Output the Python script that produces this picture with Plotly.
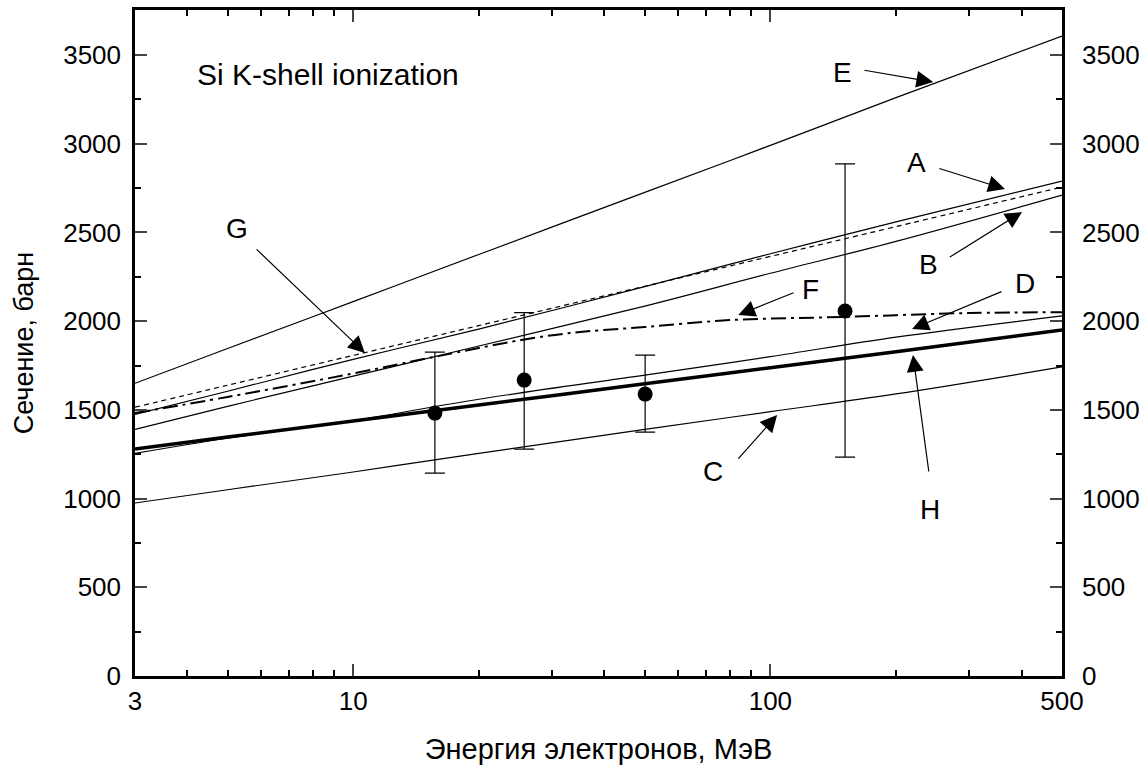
import numpy as np
import plotly.graph_objects as go

# ---- data ----
x_std = [3, 5, 10, 20, 50, 100, 200, 500]
E = [1650, 1846, 2110, 2376, 2726, 2991, 3260, 3607]
A = [1475, 1605, 1785, 1955, 2195, 2380, 2560, 2790]
G = [1515, 1639, 1807, 1975, 2197, 2365, 2533, 2756]
B = [1390, 1520, 1690, 1860, 2085, 2270, 2450, 2711]
D = [1255, 1340, 1440, 1560, 1696, 1800, 1910, 2030]
H = [1280, 1347, 1437, 1527, 1647, 1738, 1828, 1950]
C = [975, 1050, 1150, 1255, 1390, 1490, 1590, 1742]
x_F = [3, 5, 10, 16, 27, 35, 50, 80, 150, 300, 500]
F = [1482, 1573, 1705, 1803, 1905, 1939, 1967, 2006, 2024, 2046, 2050]

x_exp = [15.7, 25.7, 50.1, 151]
y_exp = [1482, 1668, 1589, 2057]
err_plus = [344, 380, 220, 830]
err_minus = [338, 389, 214, 823]

font = "Liberation Sans, Arial, sans-serif"
fig = go.Figure()

def add_line(x, y, width=1.2, dash="solid", shape="spline"):
    fig.add_trace(go.Scatter(x=x, y=y, mode="lines",
                             line=dict(color="black", width=width, dash=dash, shape=shape),
                             showlegend=False, hoverinfo="skip"))

add_line(x_std, E)
add_line(x_std, A)
add_line(x_std, G, dash="5px,4px")
add_line(x_std, B)
add_line(x_std, D)
add_line(x_std, C)
add_line(x_F, F, width=2, dash="15px,5px,3px,5px")
add_line(x_std, H, width=3.5)

fig.add_trace(go.Scatter(x=x_exp, y=y_exp, mode="markers",
                         marker=dict(color="black", size=15),
                         error_y=dict(type="data", array=err_plus, arrayminus=err_minus,
                                      color="black", thickness=1.2, width=10),
                         showlegend=False, hoverinfo="skip"))
# invisible trace to activate right axis
fig.add_trace(go.Scatter(x=[3], y=[0], yaxis="y2", mode="markers",
                         marker=dict(opacity=0), showlegend=False, hoverinfo="skip"))

# ---- annotations: (label, label_x, label_y, tail_x, tail_y, tip_x, tip_y)
labels = [
    ("E", 149, 3404, 166.7, 3416, 245.6, 3348),
    ("A", 224, 2897, 252, 2863, 365, 2745),
    ("B", 239, 2322, 267, 2356, 401, 2615),
    ("C", 73, 1150, 83.2, 1217, 103.8, 1471),
    ("D", 408, 2215, 361, 2170, 218.6, 1956),
    ("F", 124.5, 2176, 114.6, 2164, 83.8, 2035),
    ("G", 5.27, 2525, 5.82, 2413, 10.67, 1821),
    ("H", 241.5, 936, 240, 1144, 219.7, 1809),
]
ann = []
for name, lx, ly, tx, ty, hx, hy in labels:
    ann.append(dict(x=np.log10(lx), y=ly, xref="x", yref="y", text=name,
                    showarrow=False, font=dict(family=font, size=28, color="black")))
    ann.append(dict(x=np.log10(hx), y=hy, xref="x", yref="y", text="",
                    showarrow=True, ax=np.log10(tx), ay=ty, axref="x", ayref="y",
                    arrowhead=2, arrowsize=2.8, arrowwidth=1.2, arrowcolor="black"))
ann.append(dict(x=np.log10(4.18), y=3388, xref="x", yref="y", xanchor="left",
                text="Si K-shell ionization", showarrow=False,
                font=dict(family=font, size=30, color="black")))

xmajor = [3, 10, 100, 500]
xminor = [4, 5, 6, 7, 8, 9, 20, 30, 40, 50, 60, 70, 80, 90, 200, 300, 400]

yax = dict(range=[0, 3754], tickvals=list(range(0, 3501, 500)), ticks="inside",
           ticklen=12, tickwidth=2, showgrid=False, zeroline=False, automargin=False,
           showline=True, linewidth=2.5, linecolor="black",
           tickfont=dict(family=font, size=26, color="black"),
           minor=dict(ticks="inside", ticklen=6, tickwidth=2, dtick=250, tick0=0,
                      tickcolor="black", showgrid=False))

fig.update_layout(
    width=1144, height=767,
    margin=dict(l=135, r=82, t=10, b=91, autoexpand=False),
    paper_bgcolor="white", plot_bgcolor="white",
    annotations=ann,
    xaxis=dict(type="log", range=[np.log10(3), np.log10(500)],
               tickvals=xmajor, ticktext=[str(v) for v in xmajor],
               ticks="inside", ticklen=12, tickwidth=2, mirror="ticks", automargin=False,
               showline=True, linewidth=2.5, linecolor="black", showgrid=False,
               ticklabelstandoff=0,
               tickfont=dict(family=font, size=26, color="black"),
               minor=dict(ticks="inside", ticklen=6, tickwidth=2, tickvals=xminor,
                          tickcolor="black", showgrid=False),
               title=dict(text="Энергия электронов, МэВ",
                          font=dict(family=font, size=29, color="black"), standoff=24)),
    yaxis=dict(**yax, mirror=True, ticklabelstandoff=6,
               title=dict(text="Сечение, барн",
                          font=dict(family=font, size=27, color="black"), standoff=22)),
    yaxis2=dict(**yax, overlaying="y", side="right", matches="y", ticklabelstandoff=12),
)

fig.write_html("out.html")
